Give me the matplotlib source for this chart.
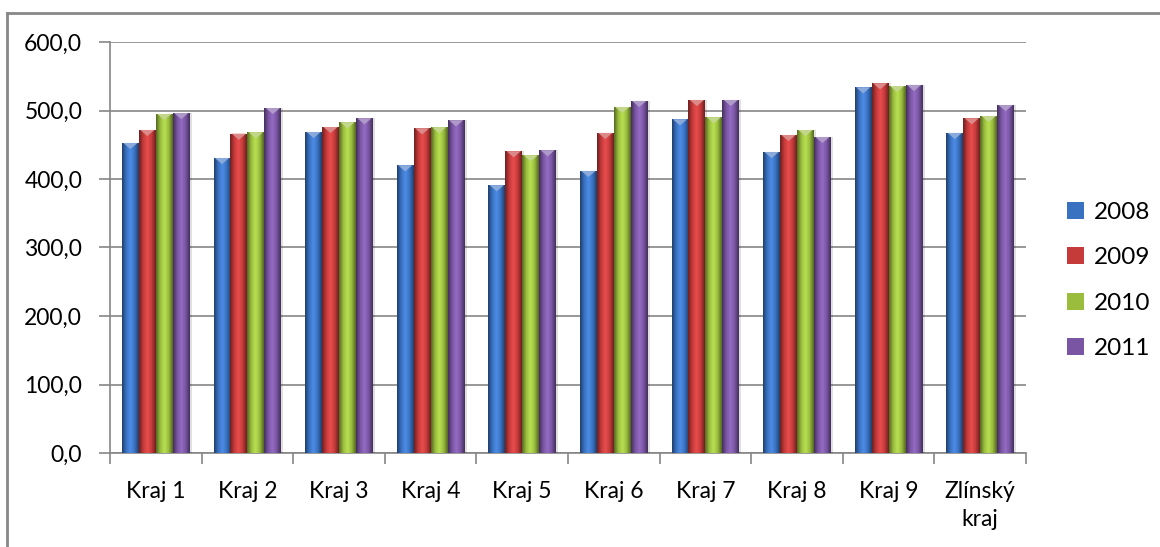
import numpy as np
import matplotlib.pyplot as plt
from matplotlib.patches import Polygon
from matplotlib.lines import Line2D
from matplotlib.colors import LinearSegmentedColormap, to_rgb

## DATA
#
regions = ['Kraj 1', 'Kraj 2', 'Kraj 3', 'Kraj 4', 'Kraj 5',
           'Kraj 6', 'Kraj 7', 'Kraj 8', 'Kraj 9', 'Zlínský\nkraj']
years = ['2008', '2009', '2010', '2011']
v2008 = [452.7, 430.7, 468.7, 420.1, 391.0, 411.8, 487.2, 439.5, 533.9, 467.3]
v2009 = [471.6, 466.2, 476.0, 474.1, 440.6, 467.3, 515.4, 464.3, 539.8, 488.7]
v2010 = [495.0, 468.3, 482.9, 475.6, 434.7, 505.2, 490.2, 471.6, 535.9, 492.0]
v2011 = [496.4, 503.7, 488.7, 485.8, 442.0, 514.0, 515.4, 461.4, 537.4, 508.0]
series = [v2008, v2009, v2010, v2011]

colors = ['#3a72c2', '#c53a3a', '#9abd3e', '#7a55a3']

plt.rcParams['font.family'] = ['Lato', 'DejaVu Sans']
plt.rcParams['font.size'] = 16.5

fig = plt.figure(figsize=(11.6, 5.47), dpi=100)
ax = fig.add_axes([110 / 1160, 1 - 453 / 547, 916 / 1160, 411 / 547])

def shade(c):
    # darker edges, lighter middle -> rounded bar look
    r, g, b = to_rgb(c)
    dark = (r * 0.55, g * 0.55, b * 0.55)
    light = tuple(min(1, v * 1.12 + 0.05) for v in (r, g, b))
    return LinearSegmentedColormap.from_list('s', [dark, c, light, c, dark])

x = np.arange(len(regions))
w = 0.185
grad = np.linspace(0, 1, 64).reshape(1, -1)
for i, (vals, c) in enumerate(zip(series, colors)):
    pos = x + (i - 1.5) * w
    bars = ax.bar(pos, vals, w, color=c, label=years[i], zorder=3,
                  edgecolor='none')
    cm = shade(c)
    for b in bars:
        bx, bw, bh = b.get_x(), b.get_width(), b.get_height()
        im = ax.imshow(grad, cmap=cm, aspect='auto', zorder=3.1,
                       extent=[bx, bx + bw, 0, bh], interpolation='bilinear')
        im.set_clip_path(b)
        # light cap at the top
        r, g, bb = to_rgb(c)
        cap = tuple(min(1, v * 0.6 + 0.4) for v in (r, g, bb))
        ax.add_patch(Polygon([(bx + bw * 0.08, bh), (bx + bw * 0.92, bh),
                              (bx + bw / 2, bh - 9)], closed=True,
                             facecolor=cap, edgecolor='none', zorder=3.2))
        # soft shadow on the right side
        ax.add_patch(plt.Rectangle((bx + bw, 0), bw * 0.12, bh,
                                   facecolor='#000000', alpha=0.12,
                                   edgecolor='none', zorder=2.9))

ax.set_xlim(-0.5, len(regions) - 0.5)
ax.set_ylim(0, 600)
ax.set_yticks(np.arange(0, 601, 100))
ax.set_yticklabels([f'{v:.1f}'.replace('.', ',') for v in range(0, 601, 100)])
ax.set_xticks(x)
ax.set_xticklabels(regions, linespacing=1.4)
ax.set_xticks(np.arange(-0.5, len(regions)), minor=True)
ax.tick_params(axis='x', which='major', length=0, pad=20)
ax.tick_params(axis='x', which='minor', length=8, color='#868686', width=1.2)
ax.tick_params(axis='y', length=8, color='#868686', width=1.2, pad=12)
ax.grid(axis='y', color='#868686', linewidth=1.2, zorder=0)
ax.set_axisbelow(True)
for s in ('top', 'right'):
    ax.spines[s].set_visible(False)
for s in ('left', 'bottom'):
    ax.spines[s].set_color('#868686')
    ax.spines[s].set_linewidth(1.2)

leg = ax.legend(loc='center left', bbox_to_anchor=(1.045, 0.42),
                frameon=False, labelspacing=1.0, handlelength=0.7,
                handleheight=0.7, handletextpad=0.4, fontsize=17.5,
                borderpad=0, borderaxespad=0)

# chart frame
fig.add_artist(Line2D([7 / 1160, 1], [1 - 13 / 547] * 2, color='#888888',
                      linewidth=2, transform=fig.transFigure))
fig.add_artist(Line2D([7 / 1160] * 2, [0, 1 - 13 / 547], color='#888888',
                      linewidth=2, transform=fig.transFigure))

fig.savefig('out.png', dpi=100)
